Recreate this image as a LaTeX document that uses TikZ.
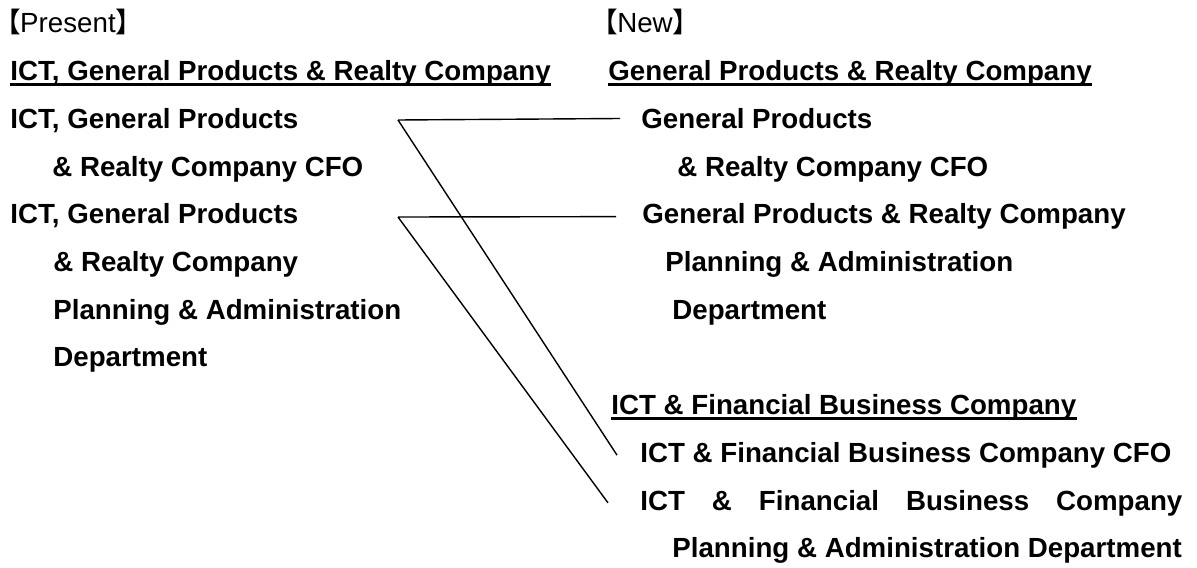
\documentclass[tikz,border=0pt]{standalone}
\usepackage{fontspec}
\setmainfont{Liberation Sans}
\newfontfamily\cjk[RawFeature=+palt]{Noto Sans CJK JP}
\usetikzlibrary{positioning}

\begin{document}
\begin{tikzpicture}[x=0.5pt,y=-0.5pt,
    every node/.style={anchor=base west,inner sep=0pt,font=\fontsize{13.85pt}{16pt}\selectfont\bfseries},
    head/.style={font=\fontsize{13.85pt}{16pt}\selectfont},
    uline/.style={line width=1.2pt}]
  \useasboundingbox (0,0) rectangle (1197,567);
  % present
  \node [head] (present) at (6,33) {{\cjk 【}Present{\cjk 】}};
  \node (l2) at (10,80.7) {ICT, General Products \& Realty Company};
  \node (l3) at (10,128.4) {ICT, General Products}; \node (l4) at (52,176.1) {\& Realty Company CFO};
  \node (l5) at (10,223.8) {ICT, General Products}; \node (l6) at (53,271.5) {\& Realty Company};
  \node (l7) at (53,319.2) {Planning \& Administration}; \node (l8) at (53,366.9) {Department};
  % new
  \node [head] (new) at (603,33) {{\cjk 【}New{\cjk 】}};
  \node (r2) at (608,80.7) {General Products \& Realty Company};
  \node (r3) at (641,128.4) {General Products}; \node (r4) at (677,176.1) {\& Realty Company CFO};
  \node (r5) at (642,223.8) {General Products \& Realty Company};
  \node (r6) at (665,271.5) {Planning \& Administration}; \node (r7) at (672,319.2) {Department};
  \node (r9) at (611,414.6) {ICT \& Financial Business Company};
  \node (r10) at (640,462.3) {ICT \& Financial Business Company CFO};
  \node (r11) at (640,510) {\makebox[271pt][s]{ICT \& Financial Business Company}};
  \node (r12) at (672,557.7) {Planning \& Administration Department};

  \draw [uline] ([yshift=-2pt]l2.base west) -- ([yshift=-2pt]l2.base east)
    ([yshift=-2pt]r2.base west) -- ([yshift=-2pt]r2.base east)
    ([yshift=-2pt]r9.base west) -- ([yshift=-2pt]r9.base east);

  \coordinate (j1) at (398,120); \coordinate (j2) at (398,217);
  \draw [line width=0.7pt] (j1) -- ([xshift=-10.5pt]r3.west) (j1) -- ([xshift=-11.5pt]r10.west)
    (j2) -- ([xshift=-13pt]r5.west) (j2) -- ([xshift=-16pt]r11.west);
\end{tikzpicture}
\end{document}
